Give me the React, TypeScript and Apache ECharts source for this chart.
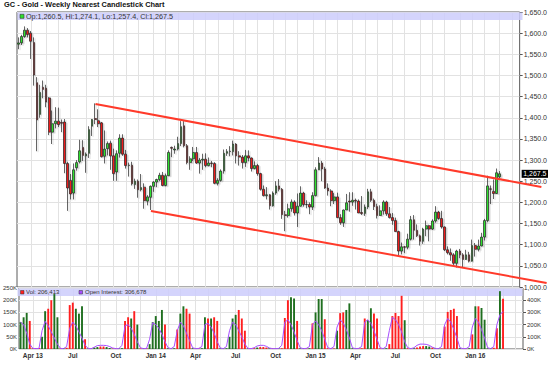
import React, { useEffect, useRef } from "react";
import * as echarts from "echarts";

const TITLE = "GC - Gold - Weekly Nearest Candlestick Chart";
const FIRST_WEEK = "2013-03-04";
const WEEK_COUNT = 164; // weeks on the axis, including empty weeks after the last bar
const MONTHS = ["Jan", "Feb", "Mar", "Apr", "May", "Jun", "Jul", "Aug", "Sep", "Oct", "Nov", "Dec"];

const OPEN = [
  1574, 1577, 1592, 1607, 1600, 1578, 1483, 1408, 1472, 1470,
  1447, 1366, 1386, 1392, 1389, 1390, 1292, 1252, 1222, 1282,
  1296, 1330, 1310, 1316, 1380, 1398, 1393, 1388, 1309, 1327,
  1340, 1310, 1272, 1316, 1352, 1314, 1287, 1288, 1242, 1250,
  1230, 1236, 1203, 1212, 1238, 1248, 1254, 1264, 1240, 1263,
  1330, 1324, 1326, 1339, 1381, 1334, 1294, 1303, 1318, 1293,
  1300, 1302, 1287, 1293, 1292, 1245, 1252, 1274, 1316, 1320,
  1320, 1338, 1310, 1307, 1294, 1310, 1305, 1280, 1287, 1268,
  1231, 1216, 1218, 1192, 1222, 1239, 1231, 1171, 1169, 1185,
  1201, 1175, 1191, 1222, 1195, 1195, 1189, 1216, 1277, 1293,
  1279, 1234, 1227, 1204, 1213, 1164, 1152, 1182, 1203, 1201,
  1205, 1203, 1176, 1174, 1189, 1225, 1205, 1190, 1169, 1180,
  1201, 1173, 1164, 1157, 1131, 1085, 1095, 1094, 1113, 1159,
  1134, 1121, 1108, 1137, 1145, 1137, 1156, 1177, 1162, 1142,
  1088, 1081, 1076, 1056, 1085, 1076, 1065, 1076, 1061, 1098,
  1089, 1097, 1118, 1157, 1232, 1226, 1221, 1260.5,
];
const HIGH = [
  1590, 1596, 1616, 1612, 1605, 1590, 1496, 1478, 1488, 1478,
  1449, 1417, 1425, 1424, 1396, 1397, 1296, 1267, 1292, 1300,
  1348, 1347, 1318, 1380, 1397, 1434, 1420, 1390, 1370, 1344,
  1346, 1327, 1323, 1361, 1361, 1324, 1294, 1296, 1256, 1254,
  1267, 1245, 1217, 1240, 1250, 1256, 1270, 1272, 1268, 1323,
  1332, 1334, 1355, 1392, 1392, 1338, 1309, 1331, 1331, 1305,
  1315, 1316, 1306, 1298, 1295, 1257, 1278, 1325, 1326, 1333,
  1346, 1340, 1321, 1312, 1324, 1323, 1306, 1297, 1291, 1270,
  1240, 1236, 1220, 1226, 1250, 1255, 1234, 1180, 1197, 1207,
  1205, 1221, 1238, 1225, 1205, 1200, 1224, 1283, 1307, 1298,
  1284, 1245, 1231, 1222, 1223, 1172, 1183, 1220, 1224, 1224,
  1209, 1207, 1215, 1195, 1232, 1232, 1209, 1197, 1193, 1205,
  1204, 1189, 1175, 1164, 1133, 1105, 1097, 1126, 1168, 1170,
  1148, 1124, 1140, 1157, 1147, 1160, 1191, 1180, 1180, 1143,
  1096, 1091, 1080, 1088, 1090, 1080, 1088, 1083, 1112, 1104,
  1112, 1128, 1161, 1263, 1240, 1254, 1280, 1274.1,
];
const LOW = [
  1562, 1572, 1589, 1590, 1539, 1476, 1321, 1400, 1446, 1425,
  1359, 1338, 1375, 1378, 1366, 1269, 1180, 1207, 1207, 1275,
  1292, 1298, 1270, 1305, 1357, 1385, 1378, 1306, 1292, 1311,
  1277, 1251, 1251, 1306, 1310, 1280, 1261, 1240, 1232, 1211,
  1226, 1185, 1193, 1182, 1225, 1236, 1250, 1238, 1238, 1262,
  1307, 1315, 1323, 1333, 1330, 1290, 1277, 1298, 1291, 1268,
  1277, 1283, 1285, 1283, 1243, 1240, 1249, 1268, 1310, 1309,
  1311, 1292, 1287, 1280, 1284, 1297, 1273, 1278, 1263, 1228,
  1214, 1207, 1183, 1190, 1218, 1226, 1161, 1132, 1164, 1178,
  1169, 1142, 1190, 1190, 1186, 1172, 1182, 1214, 1276, 1250,
  1232, 1216, 1191, 1196, 1163, 1147, 1142, 1182, 1178, 1192,
  1183, 1175, 1170, 1168, 1184, 1201, 1182, 1162, 1168, 1171,
  1168, 1162, 1147, 1130, 1072, 1077, 1080, 1089, 1110, 1112,
  1118, 1098, 1102, 1120, 1108, 1135, 1152, 1159, 1138, 1085,
  1077, 1062, 1052, 1046, 1068, 1046, 1064, 1058, 1060, 1072,
  1084, 1096, 1110, 1153, 1196, 1208, 1220, 1257.4,
];
const CLOSE = [
  1577, 1592, 1607, 1597, 1581, 1501, 1395, 1460, 1467, 1437,
  1366, 1386, 1392, 1384, 1387, 1292, 1234, 1220, 1277, 1294,
  1322, 1311, 1314, 1372, 1396, 1396, 1386, 1308, 1326, 1339,
  1310, 1268, 1315, 1352, 1314, 1287, 1288, 1244, 1250, 1230,
  1235, 1204, 1213, 1238, 1248, 1254, 1264, 1240, 1263, 1318,
  1328, 1326, 1339, 1379, 1334, 1294, 1303, 1318, 1293, 1300,
  1302, 1287, 1293, 1292, 1245, 1252, 1274, 1316, 1320, 1321,
  1338, 1310, 1307, 1294, 1310, 1305, 1280, 1287, 1268, 1231,
  1216, 1218, 1192, 1222, 1239, 1231, 1171, 1169, 1185, 1201,
  1175, 1191, 1222, 1195, 1195, 1189, 1216, 1277, 1293, 1279,
  1234, 1227, 1204, 1213, 1164, 1152, 1182, 1199, 1201, 1205,
  1203, 1175, 1174, 1189, 1225, 1205, 1190, 1169, 1180, 1201,
  1173, 1164, 1157, 1131, 1085, 1095, 1094, 1113, 1159, 1134,
  1121, 1108, 1137, 1145, 1137, 1156, 1177, 1162, 1142, 1088,
  1081, 1076, 1056, 1085, 1076, 1065, 1076, 1061, 1098, 1089,
  1097, 1118, 1157, 1239, 1231, 1221, 1270, 1267.5,
];
// weekly volume, thousands of contracts
const VOLUME_K = [
  110, 130, 148, 115, 3, 3, 4, 50, 155, 165,
  200, 225, 130, 3, 3, 5, 180, 190, 165, 145,
  175, 40, 2, 2, 6, 8, 10, 10, 8, 4,
  2, 2, 2, 3, 115, 130, 125, 155, 100, 3,
  2, 3, 20, 110, 135, 115, 160, 100, 3, 2,
  3, 80, 145, 175, 165, 145, 3, 2, 2, 3,
  130, 125, 125, 130, 115, 3, 2, 3, 50, 125,
  140, 160, 125, 75, 2, 2, 3, 6, 8, 8,
  6, 3, 2, 2, 2, 3, 127, 200, 212, 207,
  115, 3, 2, 2, 3, 105, 150, 205, 205, 122,
  3, 2, 2, 75, 147, 150, 160, 187, 3, 2,
  2, 3, 125, 118, 167, 145, 125, 3, 2, 3,
  20, 135, 148, 135, 218, 118, 3, 2, 3, 6,
  10, 12, 12, 10, 6, 3, 2, 2, 92, 152,
  160, 165, 135, 3, 2, 2, 3, 60, 175, 175,
  168, 120, 3, 3, 5, 85, 237, 206.413,
];
// open interest, thousands of contracts
const OPEN_INTEREST_K = [
  220, 200, 130, 40, 5, 3, 5, 150, 227, 190,
  140, 90, 40, 5, 3, 20, 170, 220, 190, 140,
  90, 30, 5, 3, 15, 28, 30, 30, 28, 20,
  8, 3, 3, 30, 190, 200, 170, 120, 60, 10,
  3, 5, 80, 215, 200, 170, 120, 60, 10, 3,
  20, 150, 220, 190, 130, 70, 10, 3, 5, 20,
  200, 210, 180, 130, 60, 8, 3, 20, 150, 220,
  200, 150, 100, 40, 5, 3, 10, 25, 30, 30,
  22, 8, 3, 3, 5, 30, 220, 240, 200, 140,
  70, 10, 3, 5, 20, 200, 230, 200, 150, 80,
  10, 3, 20, 180, 240, 210, 160, 90, 10, 3,
  5, 20, 220, 240, 210, 150, 80, 10, 3, 20,
  150, 260, 240, 200, 140, 60, 10, 3, 10, 30,
  40, 40, 38, 30, 15, 5, 3, 20, 200, 250,
  220, 160, 90, 10, 3, 3, 20, 180, 250, 220,
  160, 90, 10, 3, 20, 200, 280, 306.678,
];

const PRICE_MIN = 1000;
const PRICE_MAX = 1650;
const PRICE_STEP = 50;
const VOL_MAX_K = 250;
const VOL_STEP_K = 50;
const OI_MAX_K = 500;
const OI_STEP_K = 100;

// channel lines: [week index, price] endpoints
const UPPER_CHANNEL = [[25.1, 1432.5], [170.6, 1236.4]];
const LOWER_CHANNEL = [[43.2, 1179.6], [172.3, 1009.5]];

const FONT = '"Liberation Sans", Arial, Helvetica, sans-serif';
const UP = "#2fe02f";
const DOWN = "#ee1a1a";
const VOL_UP = "#1f6f1f";
const VOL_DOWN = "#ff1f1f";
const OI_COLOR = "#a64dff";
const BAND = "rgba(205,205,252,0.85)";
const GRID_LINE = "#e2e2e2";
const AXIS_TEXT = "#333";

const L = 17, R = 27, MAIN_TOP = 12, MAIN_H = 275, VOL_TOP = 288, VOL_H = 61;

const weekDates = Array.from({ length: WEEK_COUNT }, (_, i) => {
  const d = new Date(FIRST_WEEK + "T00:00:00Z");
  d.setUTCDate(d.getUTCDate() + 7 * i);
  return d;
});
const categories = weekDates.map((d) => d.toISOString().slice(0, 10));
const isMonthStart = weekDates.map((d, i) => i > 0 && d.getUTCMonth() !== weekDates[i - 1].getUTCMonth());
const isQuarterStart = weekDates.map(
  (d, i) => isMonthStart[i] && d.getUTCMonth() % 3 === 0 && i < OPEN.length
);
const firstQuarter = isQuarterStart.indexOf(true);
const labelText = (i: number) => {
  const d = weekDates[i];
  const m = d.getUTCMonth();
  const yy = String(d.getUTCFullYear()).slice(2);
  return m === 0 || i === firstQuarter ? `${MONTHS[m]} ${yy}` : MONTHS[m];
};
const fmt1 = (v: number) => v.toLocaleString("en-US", { minimumFractionDigits: 1, maximumFractionDigits: 1 });
const fmt0 = (v: number) => Math.round(v).toLocaleString("en-US");

function buildOption() {
  const candles = OPEN.map((o, i) => [o, CLOSE[i], LOW[i], HIGH[i]]);
  const vol = VOLUME_K.map((v, i) => {
    const up = i === 0 ? CLOSE[0] >= OPEN[0] : CLOSE[i] >= CLOSE[i - 1];
    return { value: v, itemStyle: { color: up ? VOL_UP : VOL_DOWN } };
  });
  const last = CLOSE[CLOSE.length - 1];
  const xBase = {
    type: "category",
    data: categories,
    boundaryGap: true,
    axisLine: { show: false },
    axisTick: { show: false },
    splitLine: {
      show: true,
      interval: (i: number) => isMonthStart[i],
      alignWithLabel: true,
      lineStyle: { color: GRID_LINE, width: 1 },
    },
  };
  return {
    animation: false,
    backgroundColor: "#fff",
    textStyle: { fontFamily: FONT },
    grid: [
      { left: L, right: R, top: MAIN_TOP, height: MAIN_H, show: true, borderColor: "#5a5a5a", borderWidth: 1 },
      { left: L, right: R, top: VOL_TOP, height: VOL_H, show: true, borderColor: "#5a5a5a", borderWidth: 1 },
    ],
    xAxis: [
      { ...xBase, gridIndex: 0, axisLabel: { show: false } },
      {
        ...xBase,
        gridIndex: 1,
        axisLabel: {
          show: true,
          interval: (i: number) => isQuarterStart[i],
          formatter: (_v: string, i: number) => labelText(i),
          fontSize: 6.5,
          fontWeight: "bold",
          color: AXIS_TEXT,
          fontFamily: FONT,
          margin: 3,
        },
      },
    ],
    yAxis: [
      {
        type: "value",
        gridIndex: 0,
        position: "right",
        min: PRICE_MIN,
        max: PRICE_MAX,
        interval: PRICE_STEP,
        axisLine: { show: false },
        axisTick: { show: true, length: 3, lineStyle: { color: "#555" } },
        axisLabel: { formatter: (v: number) => fmt1(v), fontSize: 7, color: AXIS_TEXT, margin: 4, fontFamily: FONT },
        splitLine: { show: true, lineStyle: { color: GRID_LINE, width: 1 } },
      },
      {
        type: "value",
        gridIndex: 1,
        position: "left",
        min: 0,
        max: VOL_MAX_K,
        interval: VOL_STEP_K,
        axisLine: { show: false },
        axisTick: { show: false },
        axisLabel: { formatter: (v: number) => `${v}K`, fontSize: 6, color: AXIS_TEXT, margin: 2, fontFamily: FONT },
        splitLine: { show: true, lineStyle: { color: GRID_LINE, width: 1 } },
      },
      {
        type: "value",
        gridIndex: 1,
        position: "right",
        min: 0,
        max: OI_MAX_K,
        interval: OI_STEP_K,
        axisLine: { show: false },
        axisTick: { show: true, length: 3, lineStyle: { color: "#555" } },
        axisLabel: { formatter: (v: number) => `${v}K`, fontSize: 6, color: AXIS_TEXT, margin: 4, showMaxLabel: false, fontFamily: FONT },
        splitLine: { show: false },
      },
    ],
    series: [
      {
        type: "candlestick",
        xAxisIndex: 0,
        yAxisIndex: 0,
        data: candles,
        barWidth: "72%",
        itemStyle: {
          color: UP,
          color0: DOWN,
          borderColor: "#222",
          borderColor0: "#222",
          borderWidth: 0.7,
          shadowColor: "rgba(0,0,0,0.18)",
          shadowBlur: 1,
          shadowOffsetX: 1.5,
          shadowOffsetY: 1,
        },
        markLine: {
          silent: true,
          symbol: ["none", "none"],
          data: [{ yAxis: last }],
          lineStyle: { color: "rgba(0,0,0,0)", width: 0, type: "solid" },
          label: {
            show: true,
            position: "end",
            formatter: fmt1(last),
            backgroundColor: "#000",
            color: "#fff",
            fontSize: 7,
            fontFamily: FONT,
            padding: [1, 1.5, 0, 1.5],
            distance: 2,
          },
        },
      },
      {
        type: "bar",
        xAxisIndex: 1,
        yAxisIndex: 1,
        data: vol,
        barWidth: "62%",
      },
      {
        type: "line",
        xAxisIndex: 1,
        yAxisIndex: 2,
        data: OPEN_INTEREST_K,
        symbol: "none",
        lineStyle: { color: OI_COLOR, width: 1 },
        z: 3,
      },
    ],
  };
}

function buildGraphics(chart: any) {
  const n = OPEN.length - 1;
  const x0 = chart.convertToPixel({ xAxisIndex: 0 }, 0) as number;
  const x1 = chart.convertToPixel({ xAxisIndex: 0 }, WEEK_COUNT - 1) as number;
  const xOf = (idx: number) => x0 + ((x1 - x0) * idx) / (WEEK_COUNT - 1);
  const yOf = (p: number) => chart.convertToPixel({ yAxisIndex: 0 }, p) as number;
  const plotW = 550 - L - R;
  const trend = (pts: number[][]) => ({
    type: "line",
    z: 20,
    silent: true,
    shape: { x1: xOf(pts[0][0]), y1: yOf(pts[0][1]), x2: xOf(pts[1][0]), y2: yOf(pts[1][1]) },
    style: { stroke: "#ff3a2a", lineWidth: 2 },
  });
  const ohlc = `Op:${fmt1(OPEN[n])}, Hi:${fmt1(HIGH[n])}, Lo:${fmt1(LOW[n])}, Cl:${fmt1(CLOSE[n])}`;
  return [
    {
      type: "text",
      left: 4,
      top: 1,
      z: 20,
      style: { text: TITLE, font: `bold 7.4px ${FONT}`, fill: "#111" },
    },
    { type: "rect", z: 1, silent: true, shape: { x: L + 0.5, y: MAIN_TOP + 0.5, width: plotW - 1, height: 7.5 }, style: { fill: BAND } },
    { type: "rect", z: 20, shape: { x: L + 3, y: MAIN_TOP + 2.3, width: 4, height: 4 }, style: { fill: UP, stroke: "#333", lineWidth: 0.6 } },
    {
      type: "text",
      z: 20,
      x: L + 9,
      y: MAIN_TOP + 4.4,
      style: { text: ohlc, font: `7.2px ${FONT}`, fill: "#333", verticalAlign: "middle", textVerticalAlign: "middle" },
    },
    { type: "rect", z: 1, silent: true, shape: { x: L + 0.5, y: VOL_TOP + 0.5, width: plotW - 1, height: 7.5 }, style: { fill: BAND } },
    { type: "rect", z: 20, shape: { x: L + 3.5, y: VOL_TOP + 2.5, width: 3.5, height: 3.5 }, style: { fill: VOL_DOWN, stroke: "#333", lineWidth: 0.5 } },
    {
      type: "text",
      z: 20,
      x: L + 9,
      y: VOL_TOP + 4.4,
      style: { text: `Vol: ${fmt0(VOLUME_K[n] * 1000)}`, font: `6px ${FONT}`, fill: "#333", verticalAlign: "middle", textVerticalAlign: "middle" },
    },
    { type: "rect", z: 20, shape: { x: L + 62, y: VOL_TOP + 2.5, width: 3.5, height: 3.5 }, style: { fill: OI_COLOR, stroke: "#333", lineWidth: 0.5 } },
    {
      type: "text",
      z: 20,
      x: L + 68,
      y: VOL_TOP + 4.4,
      style: { text: `Open Interest: ${fmt0(OPEN_INTEREST_K[n] * 1000)}`, font: `6px ${FONT}`, fill: "#333", verticalAlign: "middle", textVerticalAlign: "middle" },
    },
    trend(UPPER_CHANNEL),
    trend(LOWER_CHANNEL),
  ];
}

export default function App() {
  const ref = useRef<HTMLDivElement>(null);
  useEffect(() => {
    const el = ref.current;
    if (!el) return;
    const chart = echarts.init(el, null, { renderer: "svg", width: 550, height: 374 });
    chart.setOption(buildOption() as any);
    chart.setOption({ graphic: buildGraphics(chart) } as any);
    return () => chart.dispose();
  }, []);
  return (
    <div
      ref={ref}
      style={{ position: "fixed", left: 0, top: 0, width: 550, height: 374, background: "#fff" }}
    />
  );
}
